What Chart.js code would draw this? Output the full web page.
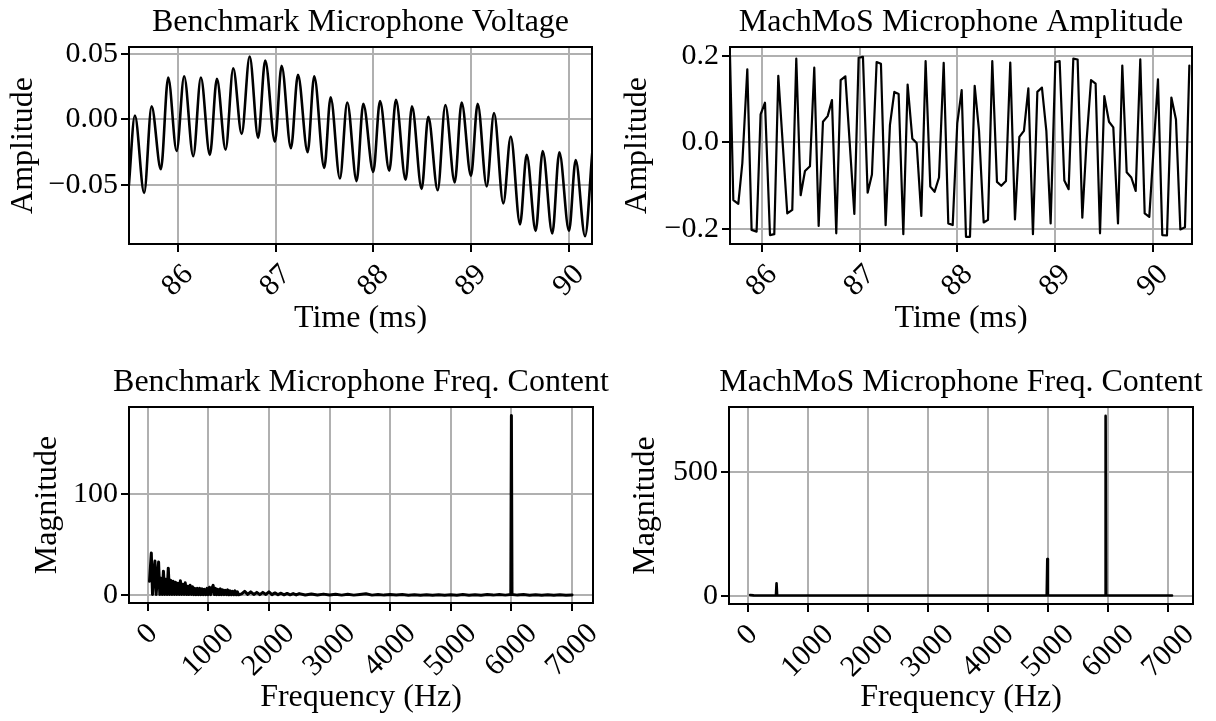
<!DOCTYPE html>
<html>
<head>
<meta charset="utf-8">
<script src="https://cdn.jsdelivr.net/npm/chart.js@4.4.0/dist/chart.umd.min.js"></script>
<style>
  html, body { margin: 0; padding: 0; background: #fff; }
  #fig { position: relative; width: 1216px; height: 721px; }
  #fig canvas { position: absolute; left: 0; top: 0; }
</style>
</head>
<body>
<div id="fig">
  <canvas id="benchTime" width="1216" height="721"></canvas>
  <canvas id="machTime" width="1216" height="721"></canvas>
  <canvas id="benchFreq" width="1216" height="721"></canvas>
  <canvas id="machFreq" width="1216" height="721"></canvas>
</div>
<script>
// Benchmark microphone voltage (peaks and troughs), ms / V
const benchTimeMs = [85.499, 85.560, 85.655, 85.731, 85.826, 85.901, 85.987, 86.064, 86.157, 86.235,
  86.327, 86.399, 86.488, 86.566, 86.652, 86.734, 86.821, 86.893, 86.992, 87.061,
  87.156, 87.228, 87.327, 87.394, 87.497, 87.562, 87.657, 87.732, 87.828, 87.896,
  87.998, 88.067, 88.162, 88.230, 88.329, 88.394, 88.493, 88.561, 88.657, 88.735,
  88.831, 88.902, 88.997, 89.066, 89.158, 89.233, 89.328, 89.404, 89.499, 89.567,
  89.659, 89.731, 89.829, 89.901, 90.000, 90.068, 90.164, 90.238];
const benchVoltage = [-0.050, 0.003, -0.056, 0.010, -0.038, 0.032, -0.024, 0.033, -0.028, 0.032,
  -0.027, 0.031, -0.023, 0.039, -0.011, 0.048, -0.014, 0.045, -0.017, 0.041,
  -0.022, 0.034, -0.025, 0.033, -0.037, 0.017, -0.045, 0.013, -0.047, 0.012,
  -0.040, 0.014, -0.039, 0.015, -0.046, 0.010, -0.053, 0.002, -0.054, 0.011,
  -0.048, 0.013, -0.043, 0.012, -0.051, 0.005, -0.064, -0.013, -0.080, -0.027,
  -0.085, -0.024, -0.087, -0.025, -0.085, -0.031, -0.089, -0.025];

// MachMoS microphone samples, ms / amplitude
const machTimeMs = [85.673, 85.707, 85.758, 85.799, 85.850, 85.894, 85.945, 85.986, 86.031, 86.082,
  86.126, 86.167, 86.259, 86.310, 86.351, 86.396, 86.440, 86.491, 86.535, 86.580,
  86.624, 86.672, 86.716, 86.760, 86.805, 86.853, 86.945, 86.989, 87.033, 87.081,
  87.125, 87.173, 87.217, 87.265, 87.309, 87.354, 87.398, 87.446, 87.490, 87.538,
  87.582, 87.630, 87.674, 87.722, 87.766, 87.811, 87.859, 87.906, 87.951, 87.998,
  88.043, 88.087, 88.128, 88.176, 88.220, 88.268, 88.312, 88.356, 88.404, 88.448,
  88.496, 88.540, 88.588, 88.633, 88.680, 88.725, 88.772, 88.817, 88.864, 88.909,
  88.953, 89.001, 89.045, 89.093, 89.137, 89.185, 89.229, 89.277, 89.321, 89.366,
  89.413, 89.458, 89.502, 89.550, 89.594, 89.642, 89.686, 89.731, 89.778, 89.823,
  89.870, 89.915, 89.962, 90.051, 90.095, 90.143, 90.188, 90.235, 90.280, 90.327,
  90.372];
const machAmplitude = [0.200, -0.133, -0.142, -0.048, 0.169, -0.202, -0.206, 0.065, 0.092, -0.214,
  -0.212, 0.154, -0.164, -0.156, 0.194, -0.122, -0.066, -0.055, 0.173, -0.193,
  0.048, 0.061, 0.098, -0.210, 0.144, 0.153, -0.165, 0.196, 0.198, -0.116,
  -0.074, 0.186, 0.182, -0.191, 0.040, 0.117, 0.112, -0.212, 0.134, 0.009,
  -0.001, -0.170, 0.188, -0.102, -0.114, -0.081, 0.184, -0.187, -0.191, 0.045,
  0.121, -0.218, -0.218, 0.131, 0.028, -0.185, -0.179, 0.188, -0.091, -0.100,
  -0.089, 0.185, -0.178, 0.013, 0.027, 0.125, -0.212, 0.117, 0.127, 0.027,
  -0.187, 0.186, 0.188, -0.088, -0.108, 0.194, 0.192, -0.174, 0.005, 0.144,
  0.136, -0.210, 0.107, 0.048, 0.035, -0.187, 0.178, -0.069, -0.081, -0.112,
  0.192, -0.164, -0.172, 0.146, -0.214, -0.215, 0.104, 0.053, -0.201, -0.196,
  0.178];

// Benchmark spectrum, Hz / magnitude
const benchFreqHz = [30, 60, 80, 100, 120, 140, 160, 180, 200, 220, 240, 260, 280, 300, 320, 340, 360, 380,
  400, 420, 440, 460, 480, 500, 520, 540, 560, 580, 600, 620, 640, 660, 680, 700, 720, 740,
  760, 780, 800, 820, 840, 860, 880, 900, 920, 940, 960, 980, 1000, 1020, 1040, 1060, 1080,
  1100, 1120, 1140, 1160, 1180, 1200, 1220, 1240, 1260, 1280, 1300, 1320, 1340, 1360, 1380,
  1400, 1420, 1440, 1460, 1480, 1500,
  1550, 1600, 1650, 1700, 1750, 1800, 1850, 1900, 1950, 2000, 2050, 2100, 2150, 2200, 2250,
  2300, 2350, 2400, 2450, 2500,
  2600, 2700, 2800, 2900, 3000, 3100, 3200, 3300, 3400, 3500, 3600, 3700, 3800, 3900, 4000,
  4100, 4200, 4300, 4400, 4500, 4600, 4700, 4800, 4900, 5000, 5100, 5200, 5300, 5400, 5500,
  5600, 5700, 5800, 5900, 5990, 6000, 6010, 6100, 6200, 6300, 6400, 6500, 6600, 6700, 6800,
  6900, 7000];
const benchMagnitude = [14, 42, 1, 22, 34, 1, 18, 33, 1, 17, 1, 24, 1, 16, 1, 27, 1, 15,
  1, 14, 1, 13, 1, 12, 1, 14.5, 1, 11, 1, 12.5, 1, 9, 1, 10, 1, 8.5,
  0.8, 7, 0.8, 7, 0.8, 7, 0.8, 6.5, 0.8, 6, 0.8, 7, 0.8, 8, 0.8, 7, 10,
  0.8, 7, 0.8, 6, 0.8, 6.5, 0.8, 5.5, 0.8, 5, 0.8, 5.5, 0.6, 4.5, 0.6,
  4, 0.6, 4.5, 0.6, 3.5, 0.6,
  1.5, 4, 1, 3.5, 1, 3, 0.8, 3, 1, 3.5, 0.8, 2.5, 0.7, 2.2, 0.6,
  2, 0.6, 1.8, 0.5, 1.8,
  0.5, 1.5, 0.4, 1.3, 0.4, 1.2, 0.3, 1.1, 0.3, 1, 1.6, 0.3, 0.9, 0.3, 0.8,
  0.3, 0.8, 0.2, 0.7, 0.2, 0.7, 0.2, 0.7, 0.2, 0.7, 0.2, 0.8, 0.2, 0.7, 0.2,
  0.8, 0.3, 0.9, 0.3, 0.8, 178, 0.8, 0.3, 0.8, 0.2, 0.7, 0.2, 0.6, 0.2, 0.6,
  0.2, 0.5];

// MachMoS spectrum, Hz / magnitude
const machFreqHz = [40, 100, 200, 470, 480, 490, 1000, 2000, 3000, 4000, 4975, 4985, 4995, 5945, 5955, 5965, 7060];
const machMagnitude = [3, 1.5, 0.8, 0.8, 50, 0.8, 0.6, 0.6, 0.6, 0.6, 0.6, 148, 0.6, 0.6, 726, 0.6, 0.6];

// Tick positions
const timeTicks = [86, 87, 88, 89, 90];
const benchVoltTicks = [-0.05, 0, 0.05];
const machAmpTicks = [-0.2, 0, 0.2];
const freqTicks = [0, 1000, 2000, 3000, 4000, 5000, 6000, 7000];
const benchMagTicks = [0, 100];
const machMagTicks = [0, 500];

const W = 1216, H = 721;
const FONT_FAMILY = "'Liberation Serif', 'Times New Roman', Times, serif";
const TICK_PX = 30;
const LABEL_PX = 32;
const GRID = '#b0b0b0';

Chart.defaults.font.family = FONT_FAMILY;
Chart.defaults.font.size = TICK_PX;
Chart.defaults.color = '#000';

const withMinus = digits => v => (v < 0 ? '\u2212' : '') + Math.abs(v).toFixed(digits);

// frame, panel title and 45-degree x tick labels
const panelDecor = {
  id: 'panelDecor',
  afterDatasetsDraw(chart) {
    const {ctx, chartArea: a} = chart;
    ctx.save();
    ctx.strokeStyle = '#000';
    ctx.lineWidth = 2;
    ctx.strokeRect(a.left, a.top, a.right - a.left, a.bottom - a.top);
    ctx.restore();
  },
  afterDraw(chart, args, opts) {
    const {ctx, chartArea: a} = chart;
    const xs = chart.scales.x;
    ctx.save();
    ctx.fillStyle = '#000';
    ctx.textAlign = 'center';
    ctx.textBaseline = 'middle';
    ctx.font = LABEL_PX + 'px ' + FONT_FAMILY;
    ctx.fillText(opts.title, (a.left + a.right) / 2, opts.titleY);
    ctx.font = TICK_PX + 'px ' + FONT_FAMILY;
    const top = a.bottom + 15.5;
    xs.ticks.forEach(t => {
      const label = String(t.value);
      const w = ctx.measureText(label).width;
      const cy = top + (w + TICK_PX) / (2 * Math.SQRT2);
      ctx.save();
      ctx.translate(xs.getPixelForValue(t.value), cy);
      ctx.rotate(-Math.PI / 4);
      ctx.fillText(label, 0, 0);
      ctx.restore();
    });
    ctx.restore();
  }
};

function panel(canvasId, p) {
  const half = LABEL_PX * 0.6;
  const yLeft = p.yTitleX - half;
  const xBottom = p.xTitleY + half;
  const gridOpts = { color: GRID, lineWidth: 2, tickColor: '#000', tickLength: 8, tickWidth: 2 };
  const titleFont = { size: LABEL_PX };
  return new Chart(document.getElementById(canvasId), {
    type: 'line',
    data: {
      datasets: [{
        data: p.x.map((v, i) => ({ x: v, y: p.y[i] })),
        borderColor: '#000',
        borderWidth: p.lineWidth,
        borderJoinStyle: 'round',
        borderCapStyle: 'round',
        pointRadius: 0,
        tension: 0,
        cubicInterpolationMode: p.smooth ? 'monotone' : 'default'
      }]
    },
    options: {
      responsive: false,
      animation: false,
      devicePixelRatio: 1,
      layout: { padding: { left: yLeft, top: p.area.t, right: W - p.area.r, bottom: H - xBottom } },
      plugins: {
        legend: { display: false },
        tooltip: { enabled: false },
        panelDecor: { title: p.title, titleY: p.titleY }
      },
      scales: {
        x: {
          type: 'linear', min: p.xRange[0], max: p.xRange[1],
          afterBuildTicks: s => { s.ticks = p.xTicks.map(v => ({ value: v })); },
          afterFit: s => { s.height = xBottom - p.area.b; },
          ticks: { display: false },
          grid: gridOpts,
          border: { display: false },
          title: { display: true, text: p.xTitle, padding: 0, font: titleFont }
        },
        y: {
          type: 'linear', min: p.yRange[0], max: p.yRange[1],
          afterBuildTicks: s => { s.ticks = p.yTicks.map(v => ({ value: v })); },
          afterFit: s => { s.width = p.area.l - yLeft; },
          ticks: { padding: 3, callback: p.yFmt },
          grid: gridOpts,
          border: { display: false },
          title: { display: true, text: p.yTitle, padding: 0, font: titleFont }
        }
      }
    },
    plugins: [panelDecor]
  });
}

panel('benchTime', {
  x: benchTimeMs, y: benchVoltage, smooth: true, lineWidth: 2.6,
  area: { l: 129, t: 47, r: 592, b: 244 },
  xRange: [85.50, 90.235], yRange: [-0.095, 0.0553],
  xTicks: timeTicks, yTicks: benchVoltTicks, yFmt: withMinus(2),
  title: 'Benchmark Microphone Voltage', titleY: 22.7,
  xTitle: 'Time (ms)', xTitleY: 318.2, yTitle: 'Amplitude', yTitleX: 24
});

panel('machTime', {
  x: machTimeMs, y: machAmplitude, smooth: false, lineWidth: 2.2,
  area: { l: 730, t: 47, r: 1192, b: 244 },
  xRange: [85.673, 90.399], yRange: [-0.2347, 0.2208],
  xTicks: timeTicks, yTicks: machAmpTicks, yFmt: withMinus(1),
  title: 'MachMoS Microphone Amplitude', titleY: 22.7,
  xTitle: 'Time (ms)', xTitleY: 318.2, yTitle: 'Amplitude', yTitleX: 638
});

panel('benchFreq', {
  x: benchFreqHz, y: benchMagnitude, smooth: false, lineWidth: 3,
  area: { l: 129, t: 407, r: 593, b: 603 },
  xRange: [-308, 7346], yRange: [-7.5, 186.5],
  xTicks: freqTicks, yTicks: benchMagTicks, yFmt: v => String(v),
  title: 'Benchmark Microphone Freq. Content', titleY: 382.5,
  xTitle: 'Frequency (Hz)', xTitleY: 697.2, yTitle: 'Magnitude', yTitleX: 47.5
});

panel('machFreq', {
  x: machFreqHz, y: machMagnitude, smooth: false, lineWidth: 2.6,
  area: { l: 729, t: 407, r: 1193, b: 604 },
  xRange: [-311, 7409], yRange: [-33.5, 762],
  xTicks: freqTicks, yTicks: machMagTicks, yFmt: v => String(v),
  title: 'MachMoS Microphone Freq. Content', titleY: 382.5,
  xTitle: 'Frequency (Hz)', xTitleY: 697.2, yTitle: 'Magnitude', yTitleX: 645.5
});
</script>
</body>
</html>
